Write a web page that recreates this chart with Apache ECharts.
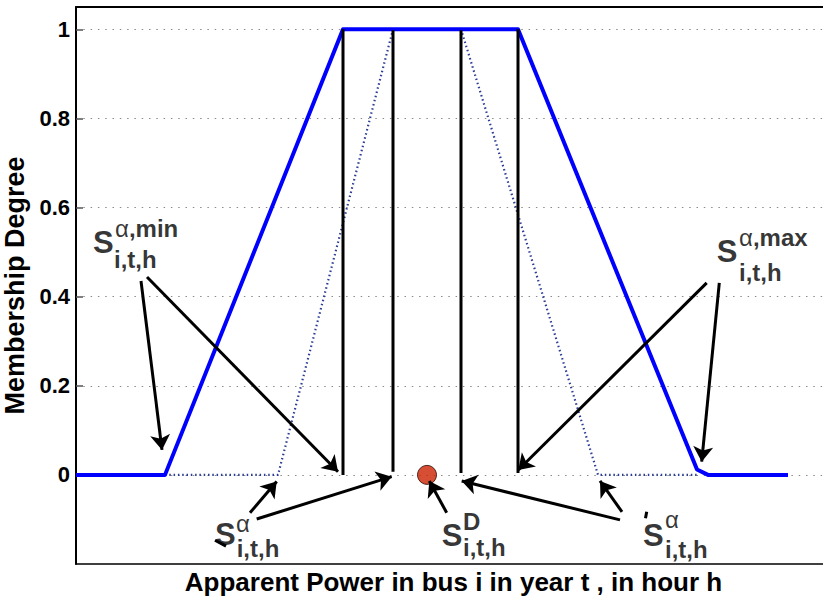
<!DOCTYPE html>
<html>
<head>
<meta charset="utf-8">
<script src="https://cdn.jsdelivr.net/npm/echarts@6/dist/echarts.min.js"></script>
<style>html,body{margin:0;padding:0;background:#fff;}#chart{width:823px;height:601px;}</style>
</head>
<body>
<div id="chart"></div>
<script>
// Membership function (trapezoid) — x in arbitrary power units, y = membership degree
const membershipX = [0, 89, 267, 442, 621, 632, 712];
const membershipY = [0, 0, 1, 1, 0.012, 0, 0];
// Dotted alpha-cut triangle (left and right)
const dottedLeftX = [89, 202, 317];
const dottedLeftY = [0, 0, 1];
const dottedRightX = [385, 522, 621];
const dottedRightY = [1, 0, 0];
// Black vertical bars
const barX = [267, 317, 385, 442];
const barBottom = [0, 0.007, 0.004, 0.004];
const barTop = [1, 0.998, 0.998, 1];
// Demand point
const demandX = [351];
const demandY = [0];
// Y ticks
const yTicks = [0, 0.2, 0.4, 0.6, 0.8, 1];
// Arrows
const arrowStartX = [65, 71, 174, 180.7, 370.7, 544, 546, 630.7, 643.3];
const arrowStartY = [0.435, 0.444, -0.085, -0.099, -0.085, -0.101, -0.083, 0.431, 0.431];
const arrowEndX = [86, 262, 200.7, 315.7, 353.3, 385.7, 524, 442.3, 625.7];
const arrowEndY = [0.056, 0.007, -0.015, -0.004, -0.0137, -0.0137, -0.0137, 0.011, 0.0296];
// Annotation texts: main symbol, superscript, subscript
const labelMain = ['S', 'S', 'S', 'S', 'S'];
const labelMainX = [17, 640.7, 139, 365.7, 567];
const labelMainY = [0.5215, 0.5013, -0.1345, -0.137, -0.135];
const labelSup = ['α|,min', 'α|,max', 'α|', '|D', 'α|'];
const labelSupX = [39, 663, 160, 387, 589];
const labelSupY = [0.553, 0.532, -0.108, -0.104, -0.101];
const labelSub = ['i,t,h', 'i,t,h', 'i,t,h', 'i,t,h', 'i,t,h'];
const labelSubX = [38, 663, 160.7, 387, 589];
const labelSubY = [0.4825, 0.454, -0.165, -0.162, -0.168];
// bound marks on S (lower / upper bound strokes)
const markStartX = [139, 570.7];
const markStartY = [-0.1466, -0.0826];
const markEndX = [150, 569.5];
const markEndY = [-0.160, -0.0975];

const FONT = '"Liberation Sans", Arial, Helvetica, sans-serif';

const chart = echarts.init(document.getElementById('chart'), null, {renderer: 'svg'});

const zip = (xs, ys) => xs.map((x, i) => [x, ys[i]]);

const series = [];
series.push({
  type: 'line', data: zip(dottedLeftX, dottedLeftY), symbol: 'none', silent: true,
  lineStyle: {color: '#2b3d94', width: 2.2, type: [1.5, 2.8]}, z: 3
});
series.push({
  type: 'line', data: zip(dottedRightX, dottedRightY), symbol: 'none', silent: true,
  lineStyle: {color: '#2b3d94', width: 2.2, type: [1.5, 2.8]}, z: 3
});
series.push({
  type: 'line', data: zip(membershipX, membershipY), symbol: 'none', silent: true,
  lineStyle: {color: '#0000ff', width: 4, join: 'round'}, z: 4
});
barX.forEach((x, i) => {
  series.push({
    type: 'line', data: [[x, barBottom[i]], [x, barTop[i]]], symbol: 'none', silent: true,
    lineStyle: {color: '#000', width: 3}, z: 5
  });
});
series.push({
  type: 'scatter', data: zip(demandX, demandY), symbol: 'circle', symbolSize: 19, silent: true,
  itemStyle: {color: '#cc2200', borderColor: '#2a0500', borderWidth: 1}, z: 6
});
series.push({
  type: 'lines', coordinateSystem: 'cartesian2d', silent: true, z: 7,
  symbol: ['none', 'arrow'], symbolSize: [11, 15],
  lineStyle: {color: '#000', width: 3, opacity: 1, curveness: 0},
  data: arrowStartX.map((x, i) => ({coords: [[x, arrowStartY[i]], [arrowEndX[i], arrowEndY[i]]]}))
});
series.push({
  type: 'lines', coordinateSystem: 'cartesian2d', silent: true, z: 9,
  symbol: ['none', 'none'],
  lineStyle: {color: '#000', width: 3, opacity: 1, curveness: 0},
  data: markStartX.map((x, i) => ({coords: [[x, markStartY[i]], [markEndX[i], markEndY[i]]]}))
});
function textSeries(xs, ys, texts, labelOpt) {
  return {
    type: 'scatter', symbolSize: 0, silent: true, z: 8,
    data: xs.map((x, i) => ({value: [x, ys[i]], txt: texts[i]})),
    label: Object.assign({show: true, position: 'right', distance: 0, color: '#000',
      fontFamily: FONT, fontWeight: 'bold'}, labelOpt)
  };
}
series.push(textSeries(labelMainX, labelMainY, labelMain, {
  fontSize: 31, lineHeight: 26, formatter: p => p.data.txt, verticalAlign: 'middle'
}));
series.push(textSeries(labelSupX, labelSupY, labelSup, {
  formatter: p => {
    const parts = p.data.txt.split('|');
    let s = '';
    if (parts[0]) s += '{a|' + parts[0] + '}';
    if (parts[1]) s += '{b|' + parts[1] + '}';
    return s;
  },
  rich: {
    a: {fontFamily: FONT, fontSize: 24, fontWeight: 'normal', color: '#000', lineHeight: 16},
    b: {fontFamily: FONT, fontSize: 24, fontWeight: 'bold', color: '#000', lineHeight: 16}
  },
  verticalAlign: 'middle'
}));
series.push(textSeries(labelSubX, labelSubY, labelSub, {
  fontSize: 24, lineHeight: 18, formatter: p => p.data.txt, verticalAlign: 'middle'
}));

const option = {
  animation: false,
  backgroundColor: '#fff',
  grid: {left: 76, right: 0, top: 7, bottom: 37, containLabel: false, outerBoundsMode: 'none'},
  xAxis: [{
    type: 'value', min: 0, max: 747, position: 'bottom',
    name: 'Apparent Power in bus i in year t , in hour h',
    nameLocation: 'middle', nameGap: 18,
    nameTextStyle: {fontFamily: FONT, fontWeight: 'bold', fontSize: 26, color: '#000', verticalAlign: 'middle',
      padding: [0, 0, 0, 8]},
    axisLine: {show: true, onZero: false, lineStyle: {color: '#000', width: 1.5}},
    axisTick: {show: false}, axisLabel: {show: false}, splitLine: {show: false}
  }, {
    type: 'value', min: 0, max: 747, position: 'top',
    axisLine: {show: true, onZero: false, lineStyle: {color: '#000', width: 2}},
    axisTick: {show: false}, axisLabel: {show: false}, splitLine: {show: false}
  }],
  yAxis: {
    type: 'value', min: -0.2, max: 1.05,
    axisLine: {show: true, onZero: false, lineStyle: {color: '#000', width: 2}},
    axisTick: {show: true, inside: true, length: 7, lineStyle: {color: '#555', width: 1.5},
      customValues: yTicks},
    axisLabel: {show: true, margin: 6, fontFamily: FONT, fontWeight: 'bold', fontSize: 22, color: '#000',
      customValues: yTicks, formatter: v => String(Math.round(v * 10) / 10)},
    splitLine: {show: true, lineStyle: {color: '#8a8a8a', width: 1, type: [1.5, 5.8]}, customValues: yTicks},
    name: 'Membership Degree', nameLocation: 'middle', nameGap: 34,
    nameTextStyle: {fontFamily: FONT, fontWeight: 'bold', fontSize: 27, color: '#000'}
  },
  series: series
};
chart.setOption(option);
</script>
</body>
</html>
